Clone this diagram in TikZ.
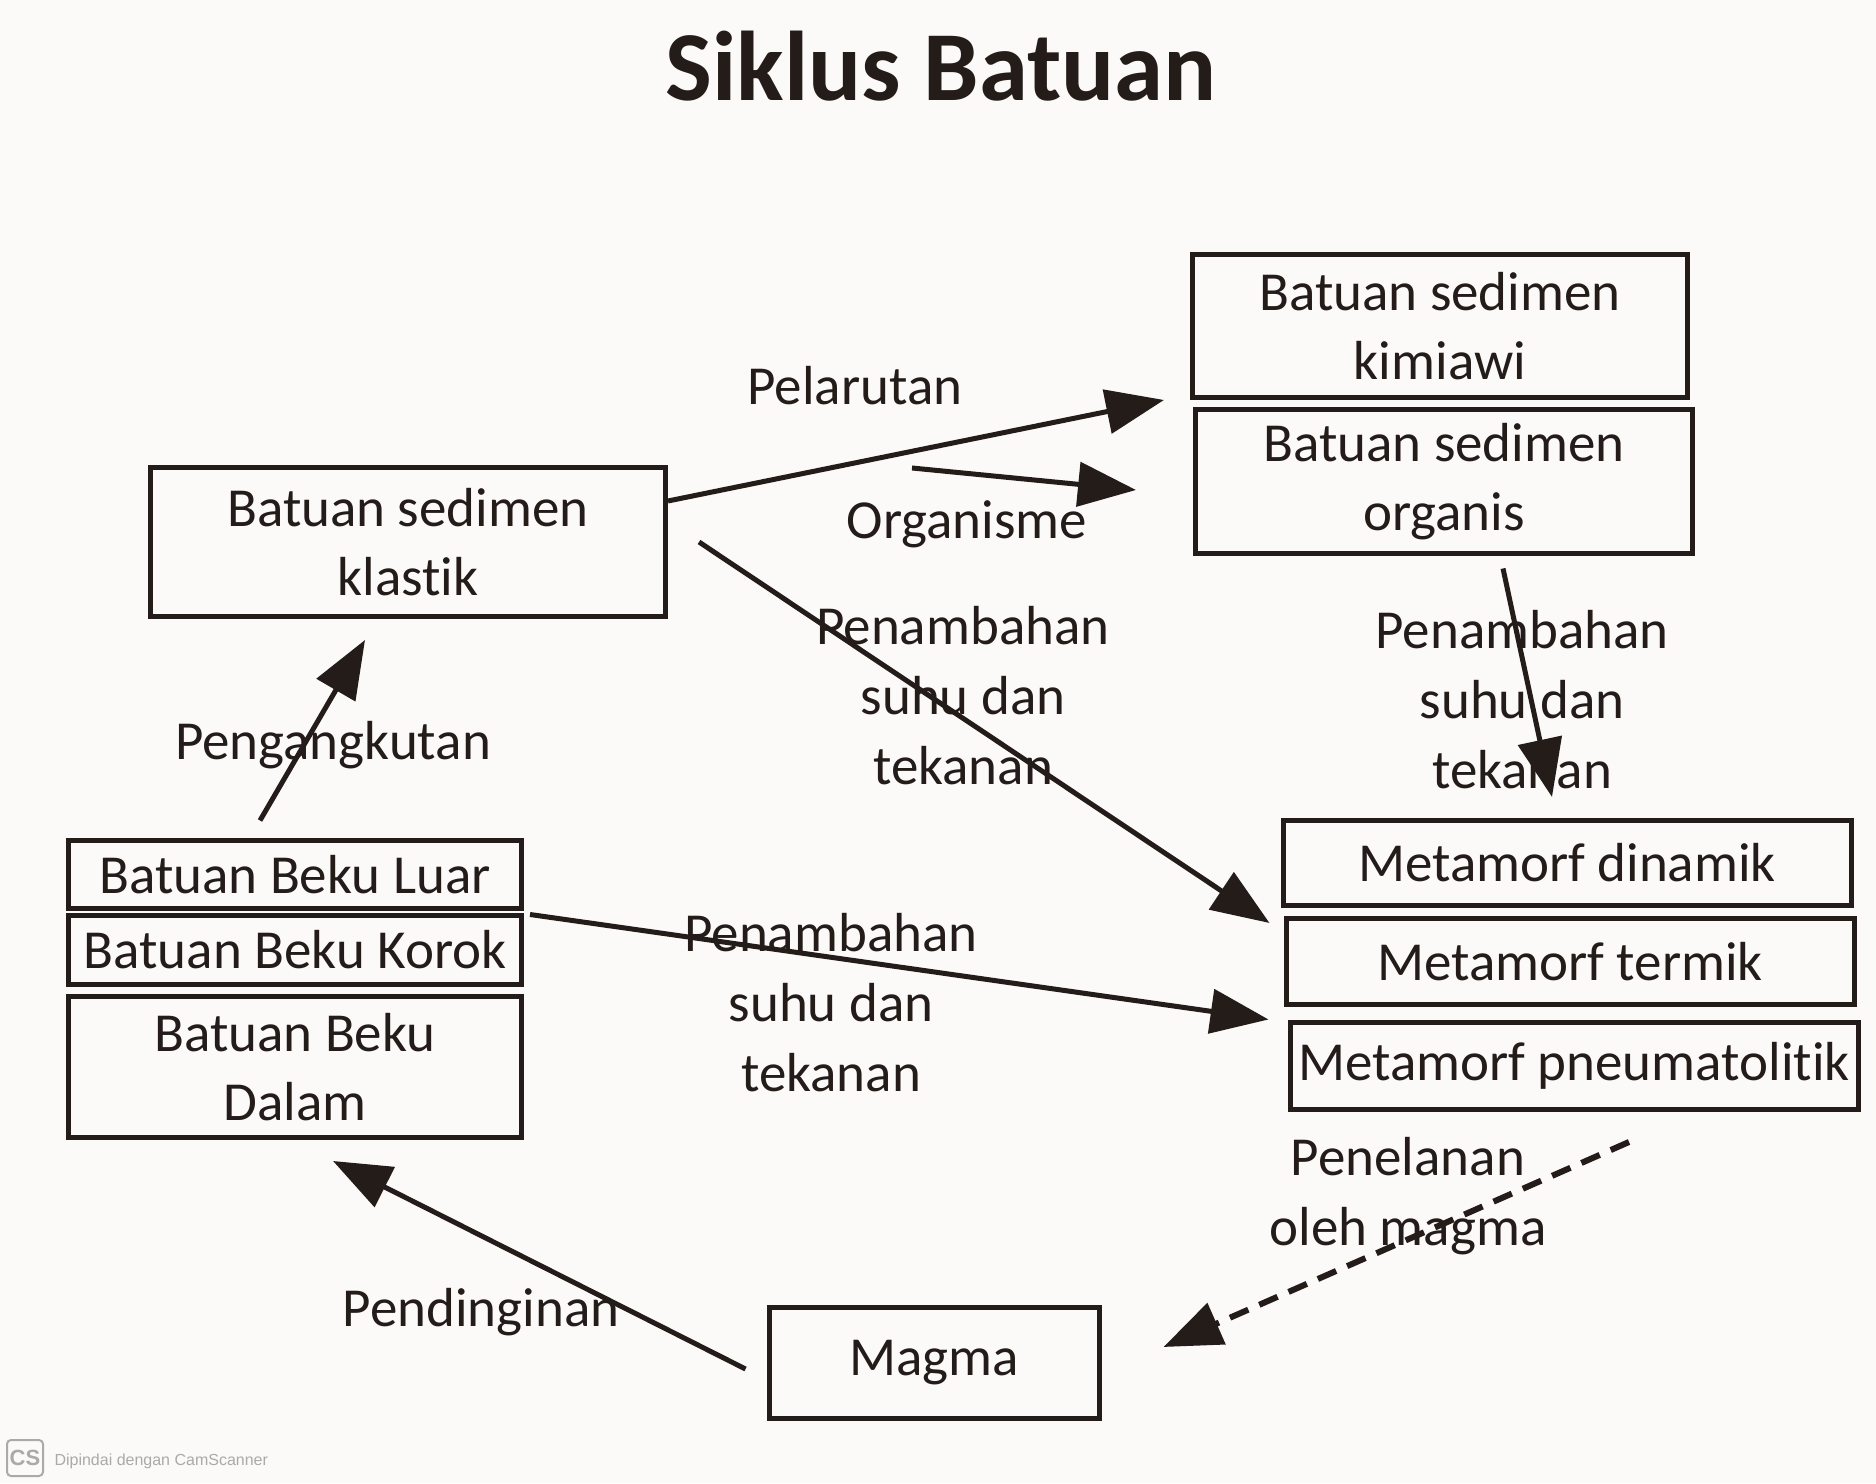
\documentclass[tikz,border=0pt]{standalone}
\usepackage{fontspec}
\setmainfont{Carlito}[Ligatures={NoCommon,NoRare,NoContextual},RawFeature={-liga;-dlig;-calt}]
\setsansfont{Liberation Sans}
\usetikzlibrary{arrows.meta}
\definecolor{ink}{RGB}{35,28,25}
\definecolor{paper}{RGB}{252,249,249}
\definecolor{scan}{RGB}{170,170,170}

\begin{document}
\begin{tikzpicture}[x=1pt,y=1pt,
  rock/.style={draw=ink,line width=5pt,inner sep=0pt,align=center,text=ink,font=\fontsize{55}{69}\selectfont},
  lbl/.style={align=center,text=ink,font=\fontsize{55}{70}\selectfont},
  flow/.style={draw=ink,line width=5pt,-{Triangle[length=58pt,width=44pt]}}]
\fill[paper] (0,0) rectangle (1876,1483);
\useasboundingbox (0,0) rectangle (1876,1483);

\node[text=ink,font=\fontsize{99}{110}\selectfont\bfseries] (title) at (941,1417) {Siklus Batuan};

\node[rock,minimum width=495pt,minimum height=143pt] (kimiawi) at (1440,1157) {Batuan sedimen\\kimiawi};
\node[rock,minimum width=497pt,minimum height=144pt] (organis) at (1444,1001) {Batuan sedimen\\organis};
\node[rock,minimum width=515pt,minimum height=149pt] (klastik) at (408,941) {Batuan sedimen\\klastik};
\node[rock,minimum width=453pt,minimum height=68pt] (luar) at (295,608) {Batuan Beku Luar};
\node[rock,minimum width=453pt,minimum height=69pt] (korok) at (295,533) {Batuan Beku Korok};
\node[rock,minimum width=453pt,minimum height=141pt] (dalam) at (295,416) {Batuan Beku\\Dalam};
\node[rock,minimum width=568pt,minimum height=85pt] (dinamik) at (1567,620) {Metamorf dinamik};
\node[rock,minimum width=568pt,minimum height=86pt] (termik) at (1570,521) {Metamorf termik};
\node[rock,minimum width=568pt,minimum height=87pt] (pneumato) at (1574,417) {Metamorf pneumatolitik};
\node[rock,minimum width=330pt,minimum height=110pt] (magma) at (934,120) {Magma};

\coordinate (orgtail) at (912,1015);
\draw[flow] ([yshift=41pt]klastik.east) -- ([xshift=-26pt]kimiawi.south west);
\draw[flow] (orgtail) -- ([xshift=-57pt,yshift=-8pt]organis.west);
\draw[flow] ([xshift=31pt]klastik.east) -- ([xshift=-11pt,yshift=-15pt]dinamik.south west);
\draw[flow] ([xshift=59pt,yshift=-12pt]organis.south) -- ([xshift=-15pt,yshift=21pt]dinamik.north);
\draw[flow] ([xshift=6pt,yshift=-3pt]luar.south east) -- ([xshift=-15pt,yshift=-12pt]termik.south west);
\draw[flow] ([xshift=-35pt,yshift=18pt]luar.north) -- ([xshift=-43pt,yshift=-21pt]klastik.south);
\draw[flow] ([xshift=-21pt,yshift=-6pt]magma.west) -- ([xshift=38pt,yshift=-21pt]dalam.south);
\draw[flow,line width=6pt,dash pattern=on 20pt off 12pt] ([xshift=55pt,yshift=-30pt]pneumato.south) -- ([xshift=62pt,yshift=16pt]magma.east);

\node[lbl] (pelarutan) at (855,1097) {Pelarutan};
\node[lbl] (organisme) at (967,959) {Organisme};
\node[lbl] (panasA) at (963,787) {Penambahan\\suhu dan\\tekanan};
\node[lbl] (panasB) at (1522,783) {Penambahan\\suhu dan\\tekanan};
\node[lbl] (panasC) at (831,480) {Penambahan\\suhu dan\\tekanan};
\node[lbl] (angkut) at (333,738) {Pengangkutan};
\node[lbl] (dingin) at (481,171) {Pendinginan};
\node[lbl] (telan) at (1408,287) {Penelanan\\oleh magma};

\node[draw=scan,line width=2pt,rounded corners=4pt,minimum size=36pt,inner sep=0pt,text=scan,font=\sffamily\bfseries\fontsize{22}{22}\selectfont] (cslogo) at (25,25) {CS};
\node[anchor=west,text=scan,font=\sffamily\fontsize{16}{18}\selectfont] (cstext) at (51,22) {Dipindai dengan CamScanner};
\end{tikzpicture}
\end{document}
